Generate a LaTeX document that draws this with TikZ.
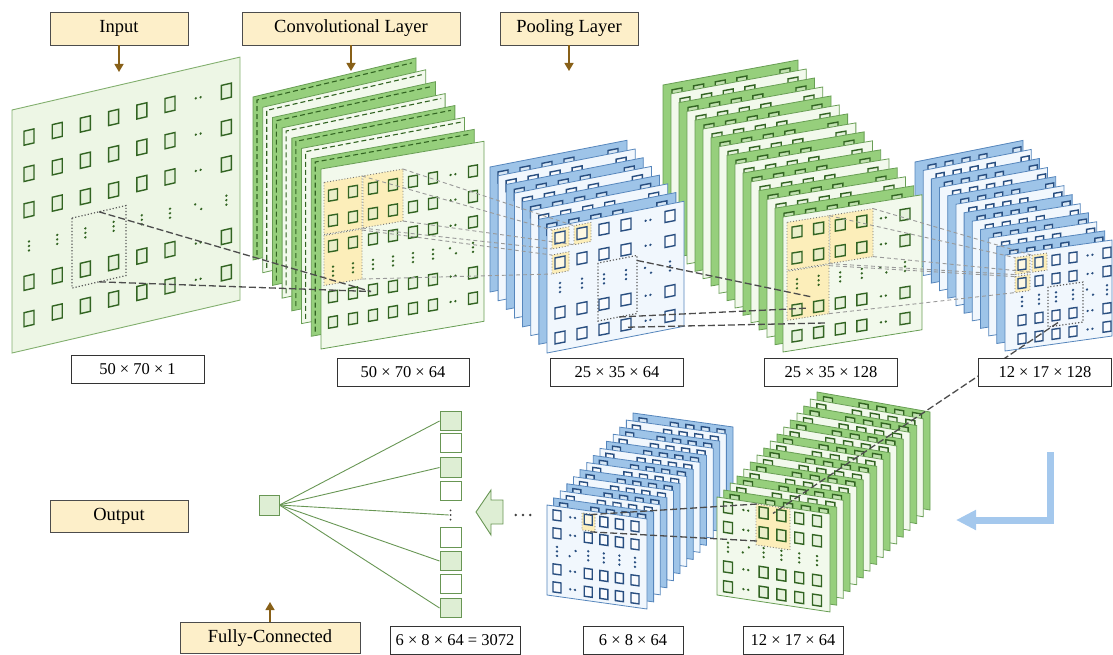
\documentclass[tikz,border=0pt]{standalone}
\usepackage{fontspec}
\setmainfont{Liberation Serif}
\usetikzlibrary{arrows.meta}

\definecolor{plg}{RGB}{150,207,124}
\definecolor{pll}{RGB}{242,249,236}
\definecolor{plgb}{RGB}{104,158,84}
\definecolor{inpf}{RGB}{237,246,229}
\definecolor{inpb}{RGB}{130,175,110}
\definecolor{sqd}{RGB}{50,100,34}
\definecolor{sqf}{RGB}{222,238,212}
\definecolor{plb}{RGB}{158,196,232}
\definecolor{plw}{RGB}{241,247,253}
\definecolor{plbb}{RGB}{86,134,188}
\definecolor{sqbc}{RGB}{40,78,128}
\definecolor{yel}{RGB}{252,238,186}
\definecolor{labf}{RGB}{253,239,201}
\definecolor{brn}{RGB}{136,96,24}
\definecolor{arrb}{RGB}{164,200,237}
\definecolor{fcg}{RGB}{104,150,84}

\def\sqa{5}\def\sqb{6}\def\dgd{1}
% cols rows u0 du v0 dv dotcol dotrow g/b
\newcommand{\fmgrid}[9]{%
  \foreach \i in {1,...,#1}{%
    \foreach \j in {1,...,#2}{%
      \pgfmathsetmacro{\cu}{#3+(\i-1)*#4}%
      \pgfmathsetmacro{\cv}{#5+(\j-1)*#6}%
      \ifnum\i=#7\relax
        \ifnum\j=#8\relax
          \fill[dot#9] (\cu-3,-\cv+3*\dgd) circle (1.3) (\cu+3,-\cv-3*\dgd) circle (1.3);
        \else
          \fill[dot#9] (\cu-2.4,-\cv) circle (1.3) (\cu+2.4,-\cv) circle (1.3);
        \fi
      \else
        \ifnum\j=#8\relax
          \fill[dot#9] (\cu,-\cv+4.5) circle (1.3) (\cu,-\cv) circle (1.3) (\cu,-\cv-4.5) circle (1.3);
        \else
          \filldraw[sq#9] (\cu-\sqa,-\cv-\sqb) rectangle (\cu+\sqa,-\cv+\sqb);
        \fi
      \fi}}}
% cols u0 du dotcol v g/b
\newcommand{\fmnotch}[6]{%
  \foreach \i in {1,...,#1}{%
    \ifnum\i=#4\relax\else
      \pgfmathsetmacro{\cu}{#2+(\i-1)*#3}%
      \filldraw[sq#6] (\cu-\sqa,-#5-\sqb) rectangle (\cu+\sqa,-#5+\sqb);
    \fi}}

\begin{document}
\begin{tikzpicture}[x=1pt,y=1pt,
  mapg/.style={draw=plgb,line width=0.8},
  mapb/.style={draw=plbb,line width=0.8},
  sqg/.style={draw=sqd,fill=sqf,fill opacity=0.6,line width=1.4},
  sqb/.style={draw=sqbc,fill=white,fill opacity=0.6,line width=1.4},
  dotg/.style={fill=sqd},
  dotb/.style={fill=sqbc},
  dashg/.style={draw=sqd,dash pattern=on 5pt off 3pt,line width=1.1},
  win/.style={fill=yel,draw=black!55,dotted,line width=0.9},
  selwin/.style={draw=black!65,dotted,line width=1.2},
  dkline/.style={draw=black!70,dash pattern=on 7pt off 3pt,line width=1.3},
  ltline/.style={draw=black!40,dash pattern=on 4pt off 3pt,line width=0.9},
  lab/.style={draw=black!70,fill=labf,line width=0.8,minimum height=33,font=\fontsize{18.5}{22}\selectfont},
  dimbox/.style={draw=black!80,fill=white,line width=0.8,minimum height=28,font=\fontsize{16.5}{20}\selectfont},
  brarr/.style={draw=brn,line width=1.4,-{Triangle[length=8pt,width=9pt]}},
  fcsq/.style={draw=fcg,line width=0.9,minimum width=21,minimum height=19.5},
  fcline/.style={draw=fcg,line width=0.9}]
\tikzstyle{every node}+=[inner sep=0pt]
\useasboundingbox (0,0) rectangle (1113,-655);

% 12 x 17 x 128
\def\sqa{4}\def\sqb{5}
\foreach \i in {0,...,10}{
  \pgfmathsetmacro{\st}{\i/11}
  \pgfmathsetmacro{\px}{915+90*\st}
  \pgfmathsetmacro{\py}{162+93*\st}
  \pgfmathsetmacro{\ph}{106-10*\st}
  \pgfmathsetmacro{\pk}{0.2-0.06*\st}
  \ifodd\i\relax\def\pc{plw}\else\def\pc{plb}\fi
  \begin{scope}[shift={(\px,-\py)},yslant=\pk]
    \filldraw[mapb,fill=\pc] (0,0) -- (108,0) -- (108,-\ph) -- (0,-\ph) -- cycle;
    \fmnotch{6}{17}{17}{5}{11}{b}
  \end{scope}}
\begin{scope}[shift={(1005,-255)},yslant=0.14]
  \filldraw[mapb,fill=plw] (0,0) -- (107,0) -- (107,-96) -- (0,-96) -- cycle;
  \filldraw[win] (10,-4) rectangle (25,-21);
  \filldraw[win] (27,-4) rectangle (42,-21);
  \filldraw[win] (10,-23) rectangle (25,-39);
  \fmgrid{6}{5}{17}{17}{12}{18.5}{5}{3}{b}
  \draw[selwin] (43,-38) rectangle (78,-78);
  \coordinate (p2-a) at (10,-4);
  \coordinate (p2-a2) at (10,-21);
  \coordinate (p2-b) at (27,-4);
  \coordinate (p2-b2) at (27,-21);
  \coordinate (p2-c) at (10,-23);
  \coordinate (p2-c2) at (10,-39);
  \coordinate (p2-w) at (53,-75);
\end{scope}

% 25 x 35 x 128
\def\sqa{5}\def\sqb{5.5}
\foreach \i in {0,...,14}{
  \pgfmathsetmacro{\st}{\i/15}
  \pgfmathsetmacro{\px}{663+120*\st}
  \pgfmathsetmacro{\py}{85+132*\st}
  \pgfmathsetmacro{\pw}{135+4*\st}
  \pgfmathsetmacro{\ph}{157-22*\st}
  \pgfmathsetmacro{\pk}{0.185-0.025*\st}
  \ifodd\i\relax\def\pc{pll}\else\def\pc{plg}\fi
  \begin{scope}[shift={(\px,-\py)},yslant=\pk]
    \filldraw[mapg,fill=\pc] (0,0) -- (\pw,0) -- (\pw,-\ph) -- (0,-\ph) -- cycle;
    \fmnotch{6}{14}{21.6}{5}{12}{g}
  \end{scope}}
\begin{scope}[shift={(783,-217)},yslant=0.16]
  \filldraw[mapg,fill=pll] (0,0) -- (139,0) -- (139,-135) -- (0,-135) -- cycle;
  \filldraw[win] (4,-6) rectangle (46,-54);
  \filldraw[win] (47,-6) rectangle (90,-54);
  \filldraw[win] (4,-55) rectangle (46,-104);
  \fmgrid{6}{5}{14}{21.6}{17}{26}{5}{3}{g}
  \coordinate (c2-at) at (46,-6);
  \coordinate (c2-ab) at (46,-54);
  \coordinate (c2-bt) at (90,-6);
  \coordinate (c2-bb) at (90,-54);
  \coordinate (c2-ct) at (46,-56);
  \coordinate (c2-cb) at (46,-104);
  \coordinate (c2-t1) at (30,-85);
  \coordinate (c2-t2) at (24,-95);
  \coordinate (c2-t3) at (44,-113);
\end{scope}

% 25 x 35 x 64
\def\sqa{5}\def\sqb{5.5}
\foreach \i in {0,...,6}{
  \pgfmathsetmacro{\st}{\i/7}
  \pgfmathsetmacro{\px}{490+57*\st}
  \pgfmathsetmacro{\py}{167+61*\st}
  \ifodd\i\relax\def\pc{plw}\else\def\pc{plb}\fi
  \begin{scope}[shift={(\px,-\py)},yslant=0.195]
    \filldraw[mapb,fill=\pc] (0,0) -- (137,0) -- (137,-125) -- (0,-125) -- cycle;
    \fmnotch{6}{13}{22}{5}{12}{b}
  \end{scope}}
\begin{scope}[shift={(547,-228)},yslant=0.195]
  \filldraw[mapb,fill=plw] (0,0) -- (137,0) -- (137,-125) -- (0,-125) -- cycle;
  \filldraw[win] (5,-3) rectangle (22,-22);
  \filldraw[win] (27,-3) rectangle (44,-22);
  \filldraw[win] (5,-28) rectangle (22,-47);
  \fmgrid{6}{5}{13}{22}{12}{25}{5}{3}{b}
  \draw[selwin] (51,-45) rectangle (90,-103);
  \coordinate (p1-a) at (5,-3);
  \coordinate (p1-a2) at (5,-22);
  \coordinate (p1-b) at (27,-3);
  \coordinate (p1-b2) at (27,-22);
  \coordinate (p1-c) at (5,-28);
  \coordinate (p1-c2) at (5,-47);
  \coordinate (p1-w1) at (90,-50);
  \coordinate (p1-w2) at (72,-103);
  \coordinate (p1-w3) at (81,-115);
\end{scope}

% 50 x 70 x 64
\foreach \i in {0,...,6}{
  \pgfmathsetmacro{\st}{\i/7}
  \pgfmathsetmacro{\px}{253+68*\st}
  \pgfmathsetmacro{\py}{97+72*\st}
  \pgfmathsetmacro{\ph}{163+17*\st}
  \pgfmathsetmacro{\pk}{0.24-0.07*\st}
  \ifodd\i\relax\def\pc{pll}\else\def\pc{plg}\fi
  \begin{scope}[shift={(\px,-\py)},yslant=\pk]
    \filldraw[mapg,fill=\pc] (0,0) -- (163,0) -- (163,-\ph) -- (0,-\ph) -- cycle;
    \draw[dashg] (4,-\ph+4) -- (4,-4) -- (159,-4);
  \end{scope}}
\begin{scope}[shift={(321,-169)},yslant=0.17]
  \filldraw[mapg,fill=pll] (0,0) -- (163,0) -- (163,-180) -- (0,-180) -- cycle;
  \filldraw[win] (3,-14) rectangle (41,-66);
  \filldraw[win] (42,-14) rectangle (82,-66);
  \filldraw[win] (3,-67) rectangle (41,-117);
  \def\sqa{4.5}\def\sqb{5.5}
  \fmgrid{8}{6}{12}{20}{28}{25.4}{7}{4}{g}
  \coordinate (c1-p) at (50,-131);
  \coordinate (c1-at) at (41,-14);
  \coordinate (c1-ab) at (41,-66);
  \coordinate (c1-bt) at (82,-14);
  \coordinate (c1-bb) at (82,-66);
  \coordinate (c1-ct) at (41,-68);
  \coordinate (c1-cb) at (41,-117);
\end{scope}

% input
\begin{scope}[shift={(12,-110)},yslant=0.232]
  \filldraw[fill=inpf,draw=inpb,line width=0.9] (0,0) -- (228,0) -- (228,-243) -- (0,-243) -- cycle;
  \def\sqa{5}\def\sqb{7}
  \fmgrid{8}{6}{17}{28.2}{31}{36.3}{7}{4}{g}
  \draw[selwin] (60,-122) rectangle (114,-192);
  \coordinate (in-t) at (87,-122);
  \coordinate (in-b) at (87,-192);
\end{scope}

\draw[dkline] (in-t) -- (c1-p);
\draw[dkline] (in-b) -- (c1-p);
\foreach \ps/\pe in {c1-at/p1-a,c1-ab/p1-a2,c1-bt/p1-b,c1-bb/p1-b2,c1-ct/p1-c,c1-cb/p1-c2}
  \draw[ltline] (\ps) -- (\pe);
\foreach \ps/\pe in {p1-w1/c2-t1,p1-w2/c2-t2,p1-w3/c2-t3}
  \draw[dkline] (\ps) -- (\pe);
\foreach \ps/\pe in {c2-at/p2-a,c2-ab/p2-a2,c2-bt/p2-b,c2-bb/p2-b2,c2-ct/p2-c,c2-cb/p2-c2}
  \draw[ltline] (\ps) -- (\pe);

% 6 x 8 x 64
\def\sqa{4}\def\sqb{5}\def\dgd{-1}
\foreach \i in {0,...,12}{
  \pgfmathsetmacro{\st}{\i/13}
  \pgfmathsetmacro{\px}{633-86*\st}
  \pgfmathsetmacro{\py}{413+92*\st}
  \ifodd\i\relax\def\pc{plw}\else\def\pc{plb}\fi
  \begin{scope}[shift={(\px,-\py)},yslant=-0.14]
    \filldraw[mapb,fill=\pc] (0,0) -- (100,0) -- (100,-90) -- (0,-90) -- cycle;
    \fmnotch{6}{10}{15.6}{2}{9}{b}
  \end{scope}}
\begin{scope}[shift={(547,-505)},yslant=-0.14]
  \filldraw[mapb,fill=plw] (0,0) -- (100,0) -- (100,-90) -- (0,-90) -- cycle;
  \filldraw[win] (35,-3) rectangle (48,-20);
  \fmgrid{6}{5}{10}{15.6}{9}{18}{2}{3}{b}
  \coordinate (p3-t) at (41,-4);
  \coordinate (p3-b) at (41,-21);
\end{scope}

% 12 x 17 x 64
\def\sqa{4.5}\def\sqb{5.5}
\foreach \i in {0,...,14}{
  \pgfmathsetmacro{\st}{\i/15}
  \pgfmathsetmacro{\px}{817-100*\st}
  \pgfmathsetmacro{\py}{392+105*\st}
  \pgfmathsetmacro{\pk}{-0.177+0.027*\st}
  \ifodd\i\relax\def\pc{pll}\else\def\pc{plg}\fi
  \begin{scope}[shift={(\px,-\py)},yslant=\pk]
    \filldraw[mapg,fill=\pc] (0,0) -- (113,0) -- (113,-98) -- (0,-98) -- cycle;
    \fmnotch{6}{11}{17.8}{2}{9}{g}
  \end{scope}}
\begin{scope}[shift={(717,-497)},yslant=-0.15]
  \filldraw[mapg,fill=pll] (0,0) -- (113,0) -- (113,-98) -- (0,-98) -- cycle;
  \filldraw[win] (39,-1) rectangle (73,-42);
  \fmgrid{6}{5}{11}{17.8}{9}{19.8}{2}{3}{g}
  \coordinate (c3-t) at (40,-1);
  \coordinate (c3-b) at (40,-38);
  \coordinate (c3-p) at (56,-8);
\end{scope}

\draw[dkline] (p2-w) -- (c3-p);
\draw[dkline] (c3-t) -- (p3-t);
\draw[dkline] (c3-b) -- (p3-b);

% fully connected
\node[minimum width=14,minimum height=4] (dd) at (523,-515) {};
\fill[black!75] (dd.west) circle (1.4) (dd.center) circle (1.4) (dd.east) circle (1.4);
\filldraw[fill=sqf,draw=fcg,line width=0.9] (476,-512) -- (491,-490) -- (491,-500) -- (503,-500) -- (503,-524) -- (491,-524) -- (491,-535) -- cycle;
\node[fcsq,fill=sqf,minimum width=20,minimum height=20] (out) at (269,-505) {};
\node[fcsq,fill=sqf] (fc1) at (450.5,-421) {};
\node[fcsq,fill=white] (fc2) at (450.5,-443) {};
\node[fcsq,fill=sqf] (fc3) at (450.5,-467.5) {};
\node[fcsq,fill=white] (fc4) at (450.5,-491) {};
\node[minimum width=3,minimum height=12] (fcd) at (450.5,-515) {};
\fill[black!75] (fcd.north) ++(0,-1.5) circle (1) (fcd.center) circle (1) (fcd.south) ++(0,1.5) circle (1);
\node[fcsq,fill=white] (fc5) at (450.5,-537.5) {};
\node[fcsq,fill=sqf] (fc6) at (450.5,-561) {};
\node[fcsq,fill=white] (fc7) at (450.5,-584) {};
\node[fcsq,fill=sqf] (fc8) at (450.5,-608) {};
\foreach \n in {fc1,fc3,fcd,fc6,fc8}
  \draw[fcline] (out.east) -- (\n.west);

\coordinate (bl-a) at (1050,-452);
\coordinate (bl-b) at (956,-520);
\draw[arrb,line width=7,-{Triangle[length=20pt,width=19pt]}] (bl-a) |- (bl-b);

% labels
\node[lab,minimum width=138] (lin) at (119,-28.5) {Input};
\node[lab,minimum width=218] (lconv) at (351,-28.5) {Convolutional Layer};
\node[lab,minimum width=138] (lpool) at (569,-28.5) {Pooling Layer};
\node[lab,minimum width=138,minimum height=32] (lout) at (119,-516) {Output};
\node[lab,minimum width=180,minimum height=31] (lfc) at (270,-638) {Fully-Connected};
\coordinate (in-arr) at (119,-72);
\coordinate (conv-arr) at (351,-71);
\coordinate (pool-arr) at (569,-71);
\coordinate (fc-arr) at (270,-602);
\draw[brarr] (lin) -- (in-arr);
\draw[brarr] (lconv) -- (conv-arr);
\draw[brarr] (lpool) -- (pool-arr);
\draw[brarr] (lfc) -- (fc-arr);

\node[dimbox,minimum width=133] (s1) at (137.5,-369) {50 × 70 × 1};
\node[dimbox,minimum width=132] (s2) at (403,-372) {50 × 70 × 64};
\node[dimbox,minimum width=133] (s3) at (617,-372) {25 × 35 × 64};
\node[dimbox,minimum width=133] (s4) at (831,-372) {25 × 35 × 128};
\node[dimbox,minimum width=133] (s5) at (1045,-372) {12 × 17 × 128};
\node[dimbox,minimum width=130] (s6) at (455,-640) {6 × 8 × 64 = 3072};
\node[dimbox,minimum width=100] (s7) at (633,-640) {6 × 8 × 64};
\node[dimbox,minimum width=100] (s8) at (793,-640) {12 × 17 × 64};
\end{tikzpicture}
\end{document}
